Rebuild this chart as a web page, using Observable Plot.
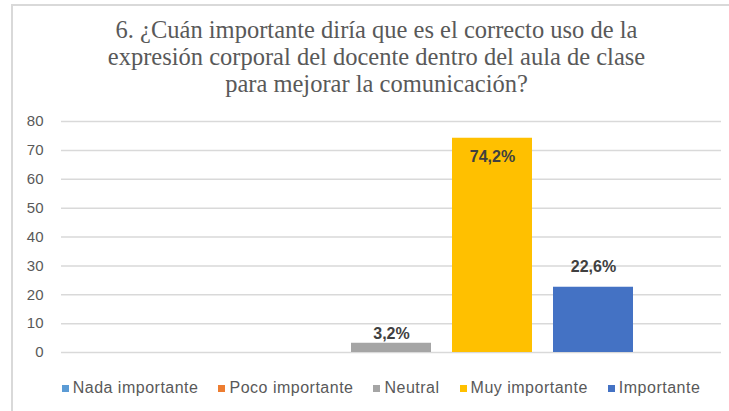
<!DOCTYPE html>
<html>
<head>
<meta charset="utf-8">
<script src="https://cdn.jsdelivr.net/npm/d3@7"></script>
<script src="https://cdn.jsdelivr.net/npm/@observablehq/plot@0.6"></script>
<style>
  body { margin: 0; background: #fff; }
  #chart { position: relative; width: 729px; height: 411px; overflow: hidden; background: #fff; }
  #frame { position: absolute; left: 11px; top: 4px; width: 760px; height: 440px; border: 2px solid #d9d9d9; box-sizing: border-box; }
  #title { position: absolute; left: 12px; top: 16px; width: 729px; text-align: center;
           font-family: "Liberation Serif", "Times New Roman", "Tinos", serif; font-size: 24.5px; line-height: 27px; color: #595959; }
  #plot { position: absolute; left: 0; top: 105px; }
  #legend { position: absolute; left: 12px; top: 379px; width: 738px; display: flex; justify-content: center; gap: 20px;
            font-family: "Liberation Sans", Arial, sans-serif; font-size: 16px; letter-spacing: 0.5px; color: #595959; }
  .item { display: flex; align-items: center; gap: 4px; }
  .sw { width: 7px; height: 7px; display: inline-block; }
</style>
</head>
<body>
<div id="chart">
  <div id="frame"></div>
  <div id="title">6. ¿Cuán importante diría que es el correcto uso de la<br>expresión corporal del docente dentro del aula de clase<br>para mejorar la comunicación?</div>
  <div id="plot"></div>
  <div id="legend"></div>
</div>
<script>
const categories = ["Nada importante", "Poco importante", "Neutral", "Muy importante", "Importante"];
const values = [0, 0, 3.2, 74.2, 22.6];
const labels = ["", "", "3,2%", "74,2%", "22,6%"];
const colors = ["#5B9BD5", "#ED7D31", "#A5A5A5", "#FFC000", "#4472C4"];
const yTicks = [0, 10, 20, 30, 40, 50, 60, 70, 80];

const data = categories.map((c, i) => ({cat: c, value: values[i], label: labels[i]}));
const labelStyle = {x: "cat", y: "value", text: "label", fill: "#404040", fontWeight: "bold", fontSize: 16};

const plot = Plot.plot({
  width: 729,
  height: 260,
  marginLeft: 61,
  marginRight: 8,
  marginTop: 16,
  marginBottom: 13,
  style: {fontFamily: "'Liberation Sans', Arial, sans-serif", fontSize: "15px", color: "#595959", background: "transparent"},
  x: {domain: categories, paddingInner: 0.212, paddingOuter: 0.857, axis: null},
  y: {domain: [0, 80]},
  color: {domain: categories, range: colors},
  marks: [
    Plot.gridY(yTicks, {stroke: "#d9d9d9", strokeOpacity: 1, strokeWidth: 1.5}),
    Plot.axisY(yTicks, {tickSize: 0, tickPadding: 18, fill: "#595959", fontSize: 15, label: null}),
    Plot.barY(data, {x: "cat", y: "value", fill: "cat"}),
    Plot.text(data.filter(d => d.label && d.value < 10), {...labelStyle, dy: -9}),
    Plot.text(data.filter(d => d.label && d.value >= 10 && d.value < 50), {...labelStyle, dy: -20}),
    Plot.text(data.filter(d => d.label && d.value >= 50), {...labelStyle, dy: 19})
  ]
});
document.getElementById("plot").appendChild(plot);

const legend = document.getElementById("legend");
categories.forEach((c, i) => {
  const it = document.createElement("div");
  it.className = "item";
  const sw = document.createElement("span");
  sw.className = "sw";
  sw.style.background = colors[i];
  const t = document.createElement("span");
  t.textContent = c;
  it.appendChild(sw); it.appendChild(t);
  legend.appendChild(it);
});
</script>
</body>
</html>
